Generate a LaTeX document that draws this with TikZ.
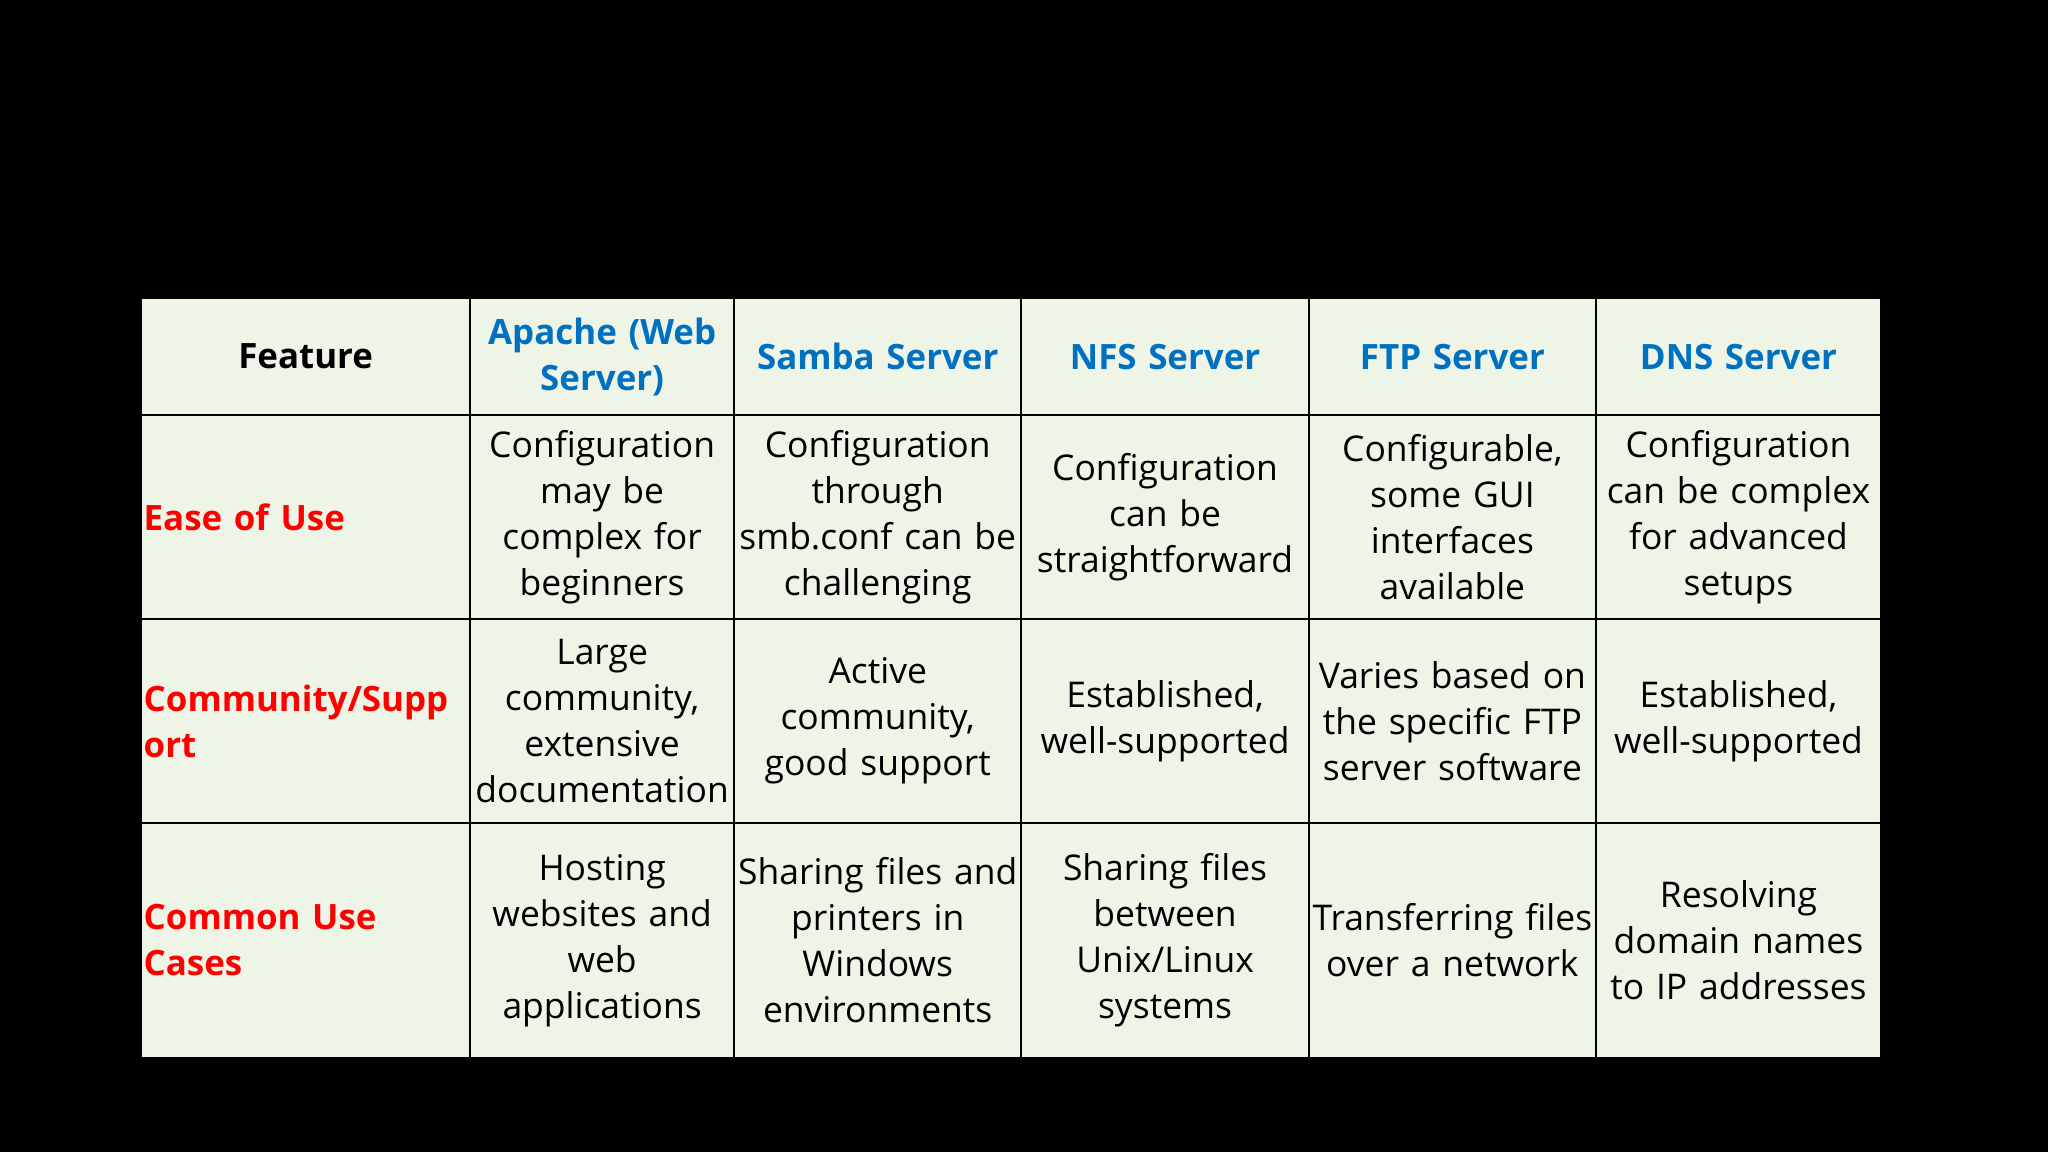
\documentclass[tikz,border=0pt]{standalone}
\usepackage{fontspec}
\setmainfont{Open Sans}
\definecolor{cellbg}{HTML}{EEF4E6}
\definecolor{hblue}{HTML}{0070C0}
\definecolor{hred}{HTML}{FF0000}
\begin{document}
\begin{tikzpicture}[x=0.025cm,y=-0.025cm,
 cell/.style={draw=black,line width=1pt,fill=cellbg,inner sep=0pt,align=center,font=\fontsize{19.3}{25}\selectfont},
 head/.style={cell,font=\fontsize{19}{25}\selectfont\bfseries,text=hblue},
 rowh/.style={cell,font=\fontsize{19}{25}\selectfont\bfseries,text=hred,align=left}]
\fill[black] (0,0) rectangle (1568,882);
\useasboundingbox (0,0) rectangle (1568,882);
\def\cellA#1#2#3#4#5#6#7{% name x1 x2 y1 y2 style text
 \node[#6,minimum width={(#3-#2)*0.025cm},minimum height={(#5-#4)*0.025cm},text width={(#3-#2-4)*0.025cm}] (#1) at ({(#2+#3)/2},{(#4+#5)/2}) {#7};}
\cellA{h0}{108}{360}{228}{318}{head,text=black}{Feature}
\cellA{h1}{360}{562}{228}{318}{head}{Apache (Web\\Server)}
\cellA{h2}{562}{782}{228}{318}{head}{Samba Server}
\cellA{h3}{782}{1002}{228}{318}{head}{NFS Server}
\cellA{h4}{1002}{1222}{228}{318}{head}{FTP Server}
\cellA{h5}{1222}{1440}{228}{318}{head}{DNS Server}
\cellA{r10}{108}{360}{318}{474}{rowh}{Ease of Use}
\cellA{r11}{360}{562}{318}{474}{cell}{Configuration\\may be\\complex for\\beginners}
\cellA{r12}{562}{782}{318}{474}{cell}{Configuration\\through\\smb.conf can be\\challenging}
\cellA{r13}{782}{1002}{318}{474}{cell}{Configuration\\can be\\straightforward}
\cellA{r14}{1002}{1222}{318}{474}{cell}{Configurable,\\some GUI\\interfaces\\available}
\cellA{r15}{1222}{1440}{318}{474}{cell}{Configuration\\can be complex\\for advanced\\setups}
\cellA{r20}{108}{360}{474}{630}{rowh}{Community/Supp\\ort}
\cellA{r21}{360}{562}{474}{630}{cell}{Large\\community,\\extensive\\documentation}
\cellA{r22}{562}{782}{474}{630}{cell}{Active\\community,\\good support}
\cellA{r23}{782}{1002}{474}{630}{cell}{Established,\\well-supported}
\cellA{r24}{1002}{1222}{474}{630}{cell}{Varies based on\\the specific FTP\\server software}
\cellA{r25}{1222}{1440}{474}{630}{cell}{Established,\\well-supported}
\cellA{r30}{108}{360}{630}{810}{rowh}{Common Use\\Cases}
\cellA{r31}{360}{562}{630}{810}{cell}{Hosting\\websites and\\web\\applications}
\cellA{r32}{562}{782}{630}{810}{cell}{Sharing files and\\printers in\\Windows\\environments}
\cellA{r33}{782}{1002}{630}{810}{cell}{Sharing files\\between\\Unix/Linux\\systems}
\cellA{r34}{1002}{1222}{630}{810}{cell}{Transferring files\\over a network}
\cellA{r35}{1222}{1440}{630}{810}{cell}{Resolving\\domain names\\to IP addresses}
\end{tikzpicture}
\end{document}
